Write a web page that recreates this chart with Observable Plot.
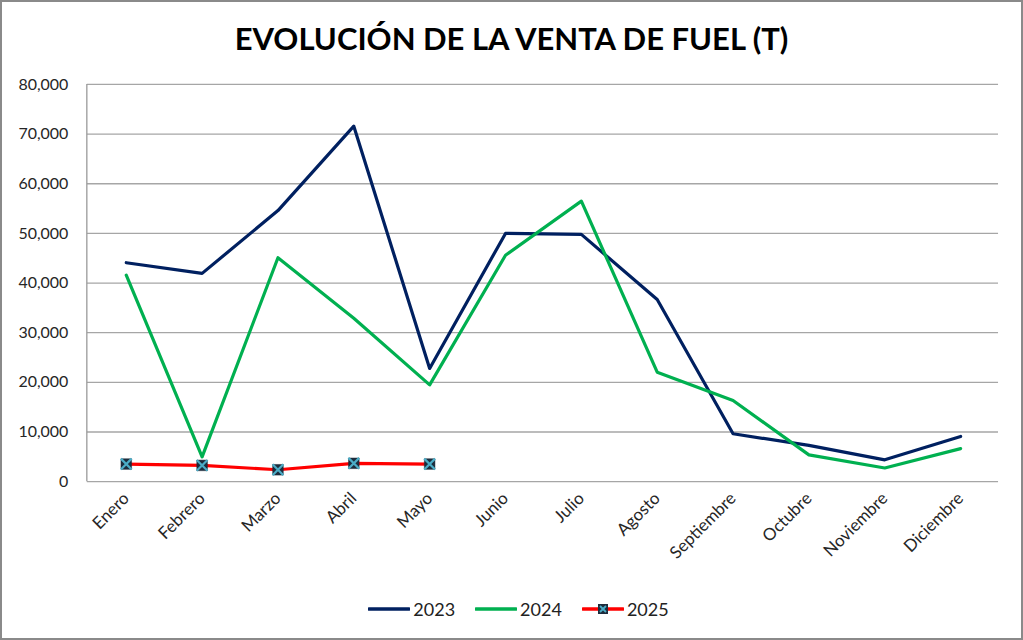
<!DOCTYPE html>
<html>
<head>
<meta charset="utf-8">
<script src="https://cdn.jsdelivr.net/npm/d3@7"></script>
<script src="https://cdn.jsdelivr.net/npm/@observablehq/plot@0.6"></script>
<style>
  html, body { margin: 0; padding: 0; background: #fff; }
  #chart {
    position: relative; width: 1023px; height: 640px; box-sizing: border-box;
    border: 2px solid #8a8a8a; font-family: Lato, "Open Sans", sans-serif; overflow: hidden;
  }
  #title {
    position: absolute; left: 0; right: 0; top: 17px; text-align: center;
    font-size: 31px; font-weight: bold; color: #000; letter-spacing: 0px;
  }
  #plot { position: absolute; left: -2px; top: 60px; }
  #legend {
    position: absolute; left: 0; right: 0; top: 596px; display: flex; justify-content: center;
    gap: 20px; font-size: 18px; color: #222; padding-left: 14px;
  }
  .item { display: flex; align-items: center; gap: 3px; }
</style>
</head>
<body>
<div id="chart">
  <div id="title">EVOLUCIÓN DE LA VENTA DE FUEL (T)</div>
  <div id="plot"></div>
  <div id="legend"></div>
</div>
<script>
const months = ["Enero","Febrero","Marzo","Abril","Mayo","Junio","Julio","Agosto","Septiembre","Octubre","Noviembre","Diciembre"];
const v2023 = [44100, 41950, 54600, 71600, 22800, 50000, 49800, 36700, 9650, 7300, 4400, 9100];
const v2024 = [41600, 5000, 45100, 32900, 19500, 45600, 56500, 22050, 16350, 5400, 2750, 6650];
const v2025 = [3550, 3280, 2400, 3700, 3550];
const yTicks = [0, 10000, 20000, 30000, 40000, 50000, 60000, 70000, 80000];
const seriesNames = ["2023", "2024", "2025"];
const seriesColors = ["#002060", "#00B050", "#FF0000"];

const rows = (vals, s) => vals.map((v, i) => ({month: months[i], value: v, serie: s}));
const d23 = rows(v2023, "2023"), d24 = rows(v2024, "2024"), d25 = rows(v2025, "2025");

const W = 1023, H = 532, mL = 87, mR = 23, mT = 22, mB = 112;

const leftAxisLine = (index, scales, values, dims) => {
  const g = document.createElementNS("http://www.w3.org/2000/svg", "line");
  g.setAttribute("x1", dims.marginLeft); g.setAttribute("x2", dims.marginLeft);
  g.setAttribute("y1", dims.marginTop); g.setAttribute("y2", dims.height - dims.marginBottom);
  g.setAttribute("stroke", "#9a9a9a"); g.setAttribute("stroke-width", 1.3);
  return g;
};

const plot = Plot.plot({
  width: W, height: H,
  marginLeft: mL, marginRight: mR, marginTop: mT, marginBottom: mB,
  style: {fontFamily: "Lato, 'Open Sans', sans-serif", fontSize: "16px", color: "#333", background: "transparent"},
  x: {type: "point", domain: months, padding: 0.5, label: null},
  y: {domain: [0, 80000], label: null},
  marks: [
    Plot.gridY(yTicks, {stroke: "#a6a6a6", strokeOpacity: 1, strokeWidth: 1.3}),
    Plot.axisY(yTicks, {tickSize: 0, tickPadding: 19, tickFormat: d3.format(","), fontSize: 16, fill: "#262626", label: null}),
    Plot.axisX({tickSize: 0, tickPadding: 14, tickRotate: -45, fontSize: 17, fill: "#262626", label: null}),
    leftAxisLine,
    Plot.lineY(d23, {x: "month", y: "value", stroke: seriesColors[0], strokeWidth: 3.2}),
    Plot.lineY(d24, {x: "month", y: "value", stroke: seriesColors[1], strokeWidth: 3.2}),
    Plot.lineY(d25, {x: "month", y: "value", stroke: seriesColors[2], strokeWidth: 3.2}),
    Plot.dot(d25, {x: "month", y: "value", symbol: "square", r: 6, fill: "#1d2c3c", stroke: "#1d2c3c", strokeWidth: 0.5}),
    Plot.dot(d25, {x: "month", y: "value", symbol: "times", r: 5, stroke: "#4BACC6", strokeWidth: 2.2})
  ]
});
document.getElementById("plot").appendChild(plot);

const legend = document.getElementById("legend");
seriesNames.forEach((name, i) => {
  const item = document.createElement("div");
  item.className = "item";
  let sw = `<svg width="42" height="12"><line x1="1" x2="41" y1="6" y2="6" stroke="${seriesColors[i]}" stroke-width="3.5" stroke-linecap="round"/>`;
  if (name === "2025") {
    sw += `<rect x="16" y="1" width="10" height="10" fill="#1d2c3c"/><path d="M18,3 L24,9 M24,3 L18,9" stroke="#4BACC6" stroke-width="1.8"/>`;
  }
  sw += `</svg>`;
  item.innerHTML = sw + `<span>${name}</span>`;
  legend.appendChild(item);
});
</script>
</body>
</html>
